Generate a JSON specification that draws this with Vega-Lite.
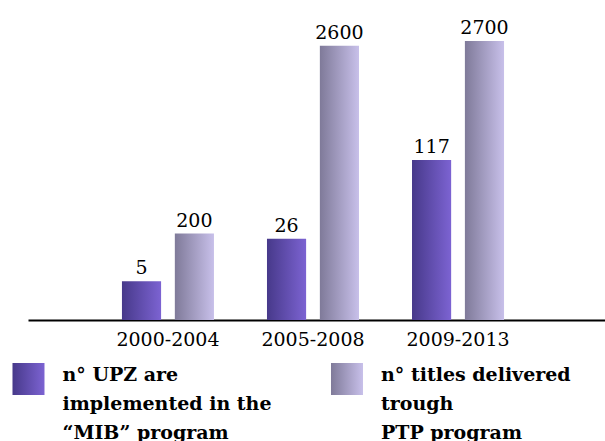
{
  "$schema": "https://vega.github.io/schema/vega-lite/v6.json",
  "padding": 0,
  "spacing": 10,
  "config": {"view": {"stroke": null}, "font": "DejaVu Serif"},
  "datasets": {
    "bars": [
      {"period": "2000-2004", "series": "A", "value": 5},
      {"period": "2005-2008", "series": "A", "value": 26},
      {"period": "2009-2013", "series": "A", "value": 117},
      {"period": "2000-2004", "series": "B", "value": 200},
      {"period": "2005-2008", "series": "B", "value": 2600},
      {"period": "2009-2013", "series": "B", "value": 2700}
    ],
    "legend": [
      {"series": "A", "label": "n° UPZ are\nimplemented in the\n“MIB” program"},
      {"series": "B", "label": "n° titles delivered\ntrough\nPTP program"}
    ]
  },
  "vconcat": [
    {
      "width": 577,
      "height": 320,
      "data": {"name": "bars"},
      "encoding": {
        "x": {
          "field": "period",
          "type": "nominal",
          "scale": {"paddingInner": 0.3655, "paddingOuter": 0.672, "align": 0.482},
          "axis": {
            "title": null,
            "labelAngle": 0,
            "ticks": false,
            "grid": false,
            "domainColor": "black",
            "domainWidth": 2,
            "labelFont": "DejaVu Serif",
            "labelFontSize": 19,
            "labelColor": "black",
            "labelPadding": 10
          }
        },
        "xOffset": {
          "field": "series",
          "type": "nominal",
          "scale": {"domain": ["A", "B"], "paddingInner": 0.26, "paddingOuter": 0}
        }
      },
      "layer": [
        {
          "transform": [{"filter": "datum.series === 'A'"}],
          "mark": {
            "type": "bar",
            "color": {"gradient": "linear", "x1": 0, "x2": 1, "y1": 0, "y2": 0,
              "stops": [{"offset": 0, "color": "#47398a"}, {"offset": 1, "color": "#7c63d2"}]}
          },
          "encoding": {
            "y": {
              "field": "value", "type": "quantitative",
              "scale": {"type": "pow", "exponent": 0.45, "domain": [0, 545.7]},
              "axis": {"orient": "left", "labels": false, "ticks": false, "domain": false, "grid": false, "title": null, "minExtent": 28, "maxExtent": 28}
            }
          }
        },
        {
          "transform": [{"filter": "datum.series === 'A'"}],
          "mark": {"type": "text", "dy": -7, "baseline": "alphabetic", "fontSize": 19, "font": "DejaVu Serif", "color": "black"},
          "encoding": {
            "y": {"field": "value", "type": "quantitative", "scale": {"type": "pow", "exponent": 0.45, "domain": [0, 545.7]}, "axis": null},
            "text": {"field": "value", "type": "quantitative"}
          }
        },
        {
          "transform": [{"filter": "datum.series === 'B'"}],
          "mark": {
            "type": "bar",
            "color": {"gradient": "linear", "x1": 0, "x2": 1, "y1": 0, "y2": 0,
              "stops": [{"offset": 0, "color": "#7f7a99"}, {"offset": 1, "color": "#c8c0ea"}]}
          },
          "encoding": {
            "y": {"field": "value", "type": "quantitative", "scale": {"type": "pow", "exponent": 0.45, "domain": [0, 3661]}, "axis": null}
          }
        },
        {
          "transform": [{"filter": "datum.series === 'B'"}],
          "mark": {"type": "text", "dy": -7, "baseline": "alphabetic", "fontSize": 19, "font": "DejaVu Serif", "color": "black"},
          "encoding": {
            "y": {"field": "value", "type": "quantitative", "scale": {"type": "pow", "exponent": 0.45, "domain": [0, 3661]}, "axis": null},
            "text": {"field": "value", "type": "quantitative"}
          }
        }
      ],
      "resolve": {"scale": {"y": "independent"}}
    },
    {
      "width": 577,
      "height": 40,
      "data": {"name": "legend"},
      "encoding": {
        "x": {"field": "series", "type": "nominal", "scale": {"type": "point", "padding": 0.4058, "align": 0.0019}, "axis": null}
      },
      "layer": [
        {
          "transform": [{"filter": "datum.series === 'A'"}],
          "mark": {"type": "point", "shape": "square", "size": 1024, "filled": true, "opacity": 1, "strokeWidth": 0,
            "fill": {"gradient": "linear", "x1": 0, "x2": 1, "y1": 0, "y2": 0,
              "stops": [{"offset": 0, "color": "#47398a"}, {"offset": 1, "color": "#7c63d2"}]}}
        },
        {
          "transform": [{"filter": "datum.series === 'B'"}],
          "mark": {"type": "point", "shape": "square", "size": 1024, "filled": true, "opacity": 1, "strokeWidth": 0,
            "fill": {"gradient": "linear", "x1": 0, "x2": 1, "y1": 0, "y2": 0,
              "stops": [{"offset": 0, "color": "#7f7a99"}, {"offset": 1, "color": "#c8c0ea"}]}}
        },
        {
          "mark": {"type": "text", "align": "left", "baseline": "top", "dx": 34, "dy": -13, "lineBreak": "\n", "lineHeight": 29,
            "fontSize": 19, "fontWeight": "bold", "font": "DejaVu Serif", "color": "black"},
          "encoding": {"text": {"field": "label", "type": "nominal"}}
        }
      ]
    }
  ]
}
